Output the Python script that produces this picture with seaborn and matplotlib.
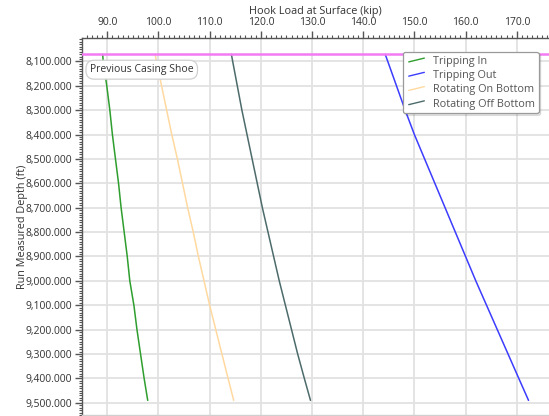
import numpy as np
import pandas as pd
import matplotlib
matplotlib.use("Agg")
import matplotlib.pyplot as plt
import matplotlib.transforms as mtransforms
from matplotlib.lines import Line2D
from matplotlib.legend_handler import HandlerLine2D
from matplotlib.ticker import MultipleLocator, FuncFormatter
import seaborn as sns

# Run measured depth (ft) and hook load (kip) for each operation
depth = [8071, 8100, 8200, 8300, 8400, 8500, 8600, 8700, 8800, 8900,
         9000, 9100, 9200, 9300, 9400, 9490]
tripping_in = [89.1, 89.2, 89.9, 90.5, 91.0, 91.6, 92.2, 92.7, 93.3, 93.9,
               94.4, 95.2, 95.8, 96.5, 97.2, 97.9]
tripping_out = [144.3, 144.8, 146.5, 148.2, 150.0, 152.0, 154.0, 156.0, 158.0, 160.0,
                162.0, 164.1, 166.2, 168.3, 170.4, 172.3]
rotating_on = [99.35, 99.6, 100.6, 101.6, 102.6, 103.7, 104.7, 105.7, 106.8, 107.8,
               108.9, 110.0, 111.2, 112.4, 113.6, 114.7]
rotating_off = [114.25, 114.5, 115.4, 116.3, 117.3, 118.3, 119.3, 120.3, 121.4, 122.5,
                123.6, 124.8, 126.0, 127.2, 128.5, 129.7]
series_names = ["Tripping In", "Tripping Out", "Rotating On Bottom", "Rotating Off Bottom"]
series_colors = ["#2E9E2E", "#3C3CFF", "#FFD9A0", "#4D6B6B"]
casing_shoe_depth = 8071
casing_shoe_label = "Previous Casing Shoe"

frames = []
for name, vals in zip(series_names, [tripping_in, tripping_out, rotating_on, rotating_off]):
    frames.append(pd.DataFrame({"depth": depth, "load": vals, "series": name}))
df = pd.concat(frames, ignore_index=True)

sns.set_theme(style="white")
plt.rcParams["font.family"] = ["Open Sans", "DejaVu Sans"]

fig = plt.figure(figsize=(5.49, 4.16), dpi=100)
W, H = 549, 416
ax = fig.add_axes([82 / W, 1 - 415 / H, (549 - 82) / W, (415 - 38) / H])

sns.lineplot(data=df, x="load", y="depth", hue="series", hue_order=series_names,
             palette=series_colors, orient="y", estimator=None, linewidth=1.1,
             ax=ax, legend=False)

ax.axhline(casing_shoe_depth, color="#F27AF2", linewidth=1.8, zorder=3)

ax.set_xlim(85.06, 176.3)
ax.set_ylim(9550, 8004)

ax.xaxis.tick_top()
ax.xaxis.set_label_position("top")
ax.xaxis.set_major_locator(MultipleLocator(10))
ax.xaxis.set_minor_locator(MultipleLocator(1))
ax.yaxis.set_major_locator(MultipleLocator(100))
ax.yaxis.set_minor_locator(MultipleLocator(10))
ax.xaxis.set_major_formatter(FuncFormatter(lambda v, p: f"{v:.1f}"))
ax.yaxis.set_major_formatter(FuncFormatter(lambda v, p: f"{v:,.3f}"))

ax.grid(True, which="major", color="#E2E2E2", linewidth=1.3)
ax.set_axisbelow(True)

tick_color = "#555555"
ax.tick_params(axis="both", which="major", length=5, width=1.0, color=tick_color,
               labelsize=7.5, labelcolor="#333333", pad=2)
ax.tick_params(axis="x", which="major", pad=2.5)
ax.tick_params(axis="both", which="minor", length=2.5, width=0.8, color=tick_color)
ax.tick_params(axis="x", which="both", top=True, bottom=False)
ax.tick_params(axis="y", which="both", left=True, right=False)

ax.spines["right"].set_visible(False)
ax.spines["left"].set_color(tick_color)
ax.spines["top"].set_color(tick_color)
ax.spines["bottom"].set_color("#CFCFCF")
for s in ax.spines.values():
    s.set_linewidth(1.0)

ax.set_xlabel("Hook Load at Surface (kip)", fontsize=7.8, color="#333333", labelpad=2)
ax.set_ylabel("Run Measured Depth (ft)", fontsize=7.8, color="#333333")
ax.yaxis.set_label_coords(-0.115, 0.5)

# Casing shoe label just below the marker line
blend = mtransforms.blended_transform_factory(ax.transAxes, ax.transData)
ax.text(0.017, 8134, casing_shoe_label, transform=blend, fontsize=7.5,
        color="#333333", va="center", ha="left", zorder=5,
        bbox=dict(boxstyle="round,pad=0.38,rounding_size=0.8", fc="white",
                  ec="#D0D0D0", lw=0.9))


class SlantHandler(HandlerLine2D):
    def create_artists(self, legend, orig_handle, xdescent, ydescent, width,
                       height, fontsize, trans):
        line = Line2D([-xdescent + width * 0.1, -xdescent + width * 0.9],
                      [-ydescent + height * 0.25, -ydescent + height * 0.75],
                      color=orig_handle.get_color(),
                      linewidth=orig_handle.get_linewidth())
        line.set_transform(trans)
        return [line]


handles = [Line2D([], [], color=c, linewidth=1.0) for c in series_colors]
leg = ax.legend(handles, series_names, loc="upper left",
                bbox_to_anchor=((403 - 82) / (549 - 82), 1 - (52 - 38) / (415 - 38)),
                fontsize=7.8, frameon=True, fancybox=True,
                shadow={"ox": 1.5, "oy": -1.5, "alpha": 0.15},
                handlelength=1.8, handletextpad=0.6, labelspacing=0.3,
                borderpad=0.35, borderaxespad=0,
                handler_map={Line2D: SlantHandler()})
leg.get_frame().set_edgecolor("#9A9A9A")
leg.get_frame().set_linewidth(0.9)
for t in leg.get_texts():
    t.set_color("#555555")

fig.savefig("out.png", dpi=100)
